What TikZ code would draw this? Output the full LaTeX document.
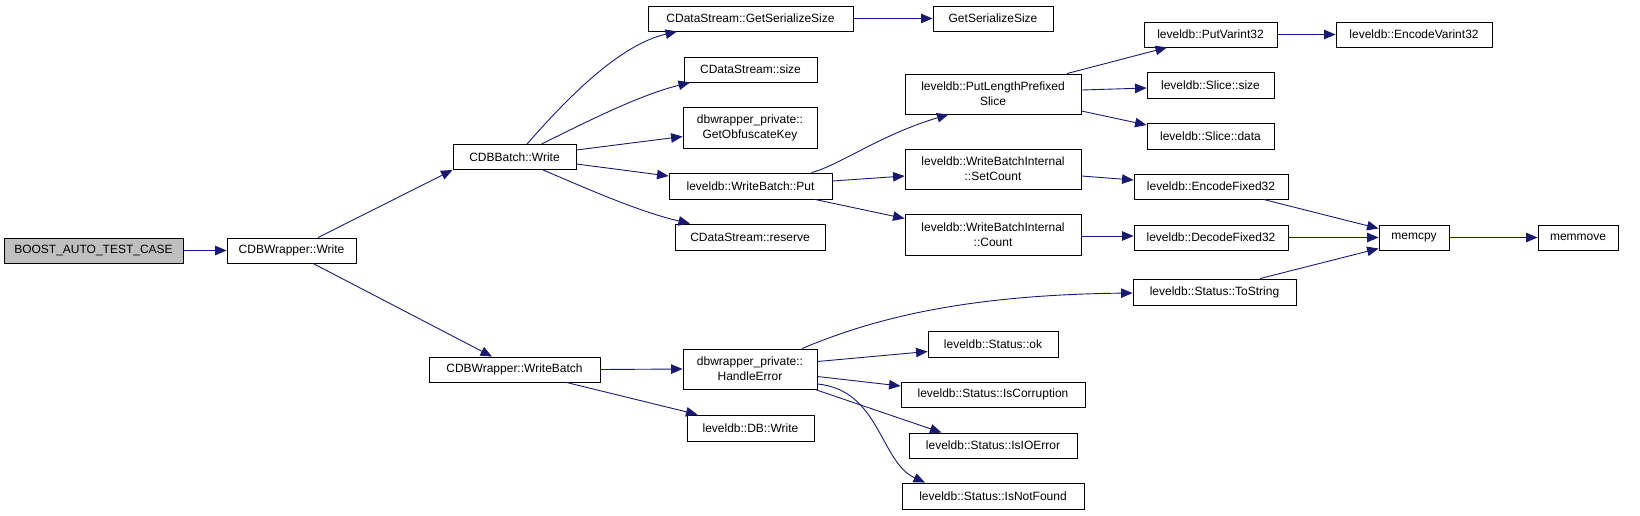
\documentclass[tikz,border=0pt]{standalone}
\usepackage{fontspec}
\setmainfont{Liberation Sans}
\usetikzlibrary{arrows.meta}
\definecolor{edgec}{HTML}{191970}
\definecolor{grayfill}{HTML}{BFBFBF}
\tikzset{
  fn/.style={draw=black, line width=0.9pt, rectangle, inner sep=0pt, align=center,
    font=\fontsize{12}{15}\selectfont, minimum height=25pt, fill=white},
  fn2/.style={fn, minimum height=40pt},
  call/.style={draw=edgec, line width=0.9pt, -{Triangle[length=11.5pt,width=9.5pt]}},
}
\begin{document}
\begin{tikzpicture}[x=1pt,y=-1pt]
\useasboundingbox (0,0) rectangle (1640,515);
% nodes
\node[fn, fill=grayfill, minimum width=179pt] (boost) at (93.5,250.5) {BOOST\_AUTO\_TEST\_CASE};
\node[fn, minimum width=129pt] (cwrite) at (291.5,250.5) {CDBWrapper::Write};
\node[fn, minimum width=123pt] (bwrite) at (514.5,157) {CDBBatch::Write};
\node[fn, minimum width=171pt] (wbatch) at (514.5,369.5) {CDBWrapper::WriteBatch};
\node[fn, minimum width=205pt] (gss1) at (750.5,18.5) {CDataStream::GetSerializeSize};
\node[fn, minimum width=133pt] (dsize) at (750.5,69.5) {CDataStream::size};
\node[fn2, minimum width=134pt, minimum height=41pt] (obf) at (750,127.5) {dbwrapper\_private::\\GetObfuscateKey};
\node[fn, minimum width=163pt, minimum height=26pt] (put) at (750.5,186) {leveldb::WriteBatch::Put};
\node[fn, minimum width=150pt, minimum height=26pt] (reserve) at (750,237) {CDataStream::reserve};
\node[fn2, minimum width=134pt] (handle) at (750,369) {dbwrapper\_private::\\HandleError};
\node[fn, minimum width=127pt, minimum height=26pt] (dbwrite) at (750.5,428) {leveldb::DB::Write};
\node[fn, minimum width=120pt] (gss2) at (993,18.5) {GetSerializeSize};
\node[fn2, minimum width=176pt] (plps) at (993,94) {leveldb::PutLengthPrefixed\\Slice};
\node[fn2, minimum width=176pt] (setcount) at (993,169) {leveldb::WriteBatchInternal\\::SetCount};
\node[fn2, minimum width=176pt, minimum height=41pt] (count) at (993,234.5) {leveldb::WriteBatchInternal\\::Count};
\node[fn, minimum width=130pt, minimum height=26pt] (ok) at (993,344) {leveldb::Status::ok};
\node[fn, minimum width=184pt] (corrupt) at (993,394.5) {leveldb::Status::IsCorruption};
\node[fn, minimum width=168pt] (ioerr) at (993,445.5) {leveldb::Status::IsIOError};
\node[fn, minimum width=182pt, minimum height=26pt] (notfound) at (993,496) {leveldb::Status::IsNotFound};
\node[fn, minimum width=133pt] (pv32) at (1210.5,34.5) {leveldb::PutVarint32};
\node[fn, minimum width=127pt, minimum height=26pt] (ssize) at (1210.5,85) {leveldb::Slice::size};
\node[fn, minimum width=127pt, minimum height=26pt] (sdata) at (1210.5,136) {leveldb::Slice::data};
\node[fn, minimum width=154pt] (ef32) at (1211,186.5) {leveldb::EncodeFixed32};
\node[fn, minimum width=154pt] (df32) at (1211,237.5) {leveldb::DecodeFixed32};
\node[fn, minimum width=163pt, minimum height=26pt] (tostring) at (1214.5,292) {leveldb::Status::ToString};
\node[fn, minimum width=156pt] (ev32) at (1414,34.5) {leveldb::EncodeVarint32};
\node[fn, minimum width=70pt] (memcpy) at (1414,237.5) {memcpy};
\node[fn, minimum width=80pt] (memmove) at (1578,237.5) {memmove};
% edges
\draw[call] (boost.east) -- (cwrite.west);
\draw[call] ([xshift=26.5pt]cwrite.north) -- (bwrite.south west);
\draw[call] ([xshift=21.5pt]cwrite.south) -- ([xshift=-22.5pt]wbatch.north);
\draw[call] ([xshift=12.5pt]bwrite.north) .. controls (570,95) and (620,45) .. ([xshift=-73.5pt]gss1.south);
\draw[call] ([xshift=27pt]bwrite.north) .. controls (590,120) and (640,95) .. ([xshift=-60.5pt]dsize.south);
\draw[call] ([yshift=7pt]bwrite.east) -- ([yshift=-9pt]obf.west);
\draw[call] ([yshift=-7pt]bwrite.east) -- ([yshift=10pt]put.west);
\draw[call] ([xshift=28.5pt]bwrite.south) .. controls (590,190) and (640,212) .. ([xshift=-60pt]reserve.north);
\draw[call] (gss1.east) -- (gss2.west);
\draw[call] ([xshift=61pt]put.north) .. controls (840,165) and (880,135) .. ([xshift=-44.5pt]plps.south);
\draw[call] ([yshift=5pt]put.east) -- ([yshift=-7pt]setcount.west);
\draw[call] ([xshift=64.5pt]put.south) -- ([yshift=16pt]count.west);
\draw[call] ([xshift=74pt]plps.north) -- ([xshift=-43.5pt]pv32.south);
\draw[call] ([yshift=4pt]plps.east) -- ([yshift=-3pt]ssize.west);
\draw[call] ([yshift=-17pt]plps.east) -- ([yshift=11pt]sdata.west);
\draw[call] (pv32.east) -- (ev32.west);
\draw[call] ([yshift=-7pt]setcount.east) -- ([yshift=6.5pt]ef32.west);
\draw[call] ([yshift=-1.5pt]count.east) -- ([yshift=1.5pt]df32.west);
\draw[call] ([xshift=52.5pt]ef32.south) -- ([yshift=9pt]memcpy.west);
\draw[call] (df32.east) -- (memcpy.west);
\draw[call] ([xshift=45.5pt]tostring.north) -- ([yshift=-11pt]memcpy.west);
\draw[call] (memcpy.east) -- (memmove.west);
\draw[call] (wbatch.east) -- (handle.west);
\draw[call] ([xshift=52pt]wbatch.south) -- ([xshift=-53pt]dbwrite.north);
\draw[call] ([xshift=52pt]handle.north) .. controls (870,320) and (960,295) .. ([yshift=-1pt]tostring.west);
\draw[call] ([yshift=7.5pt]handle.east) -- ([yshift=-7.5pt]ok.west);
\draw[call] ([yshift=-7.5pt]handle.east) -- ([yshift=8.5pt]corrupt.west);
\draw[call] ([xshift=65pt]handle.south) -- ([xshift=-51.5pt]ioerr.north);
\draw[call] ([yshift=-15pt]handle.east) .. controls (880,390) and (880,462) .. ([xshift=-68pt]notfound.north);
\end{tikzpicture}
\end{document}
